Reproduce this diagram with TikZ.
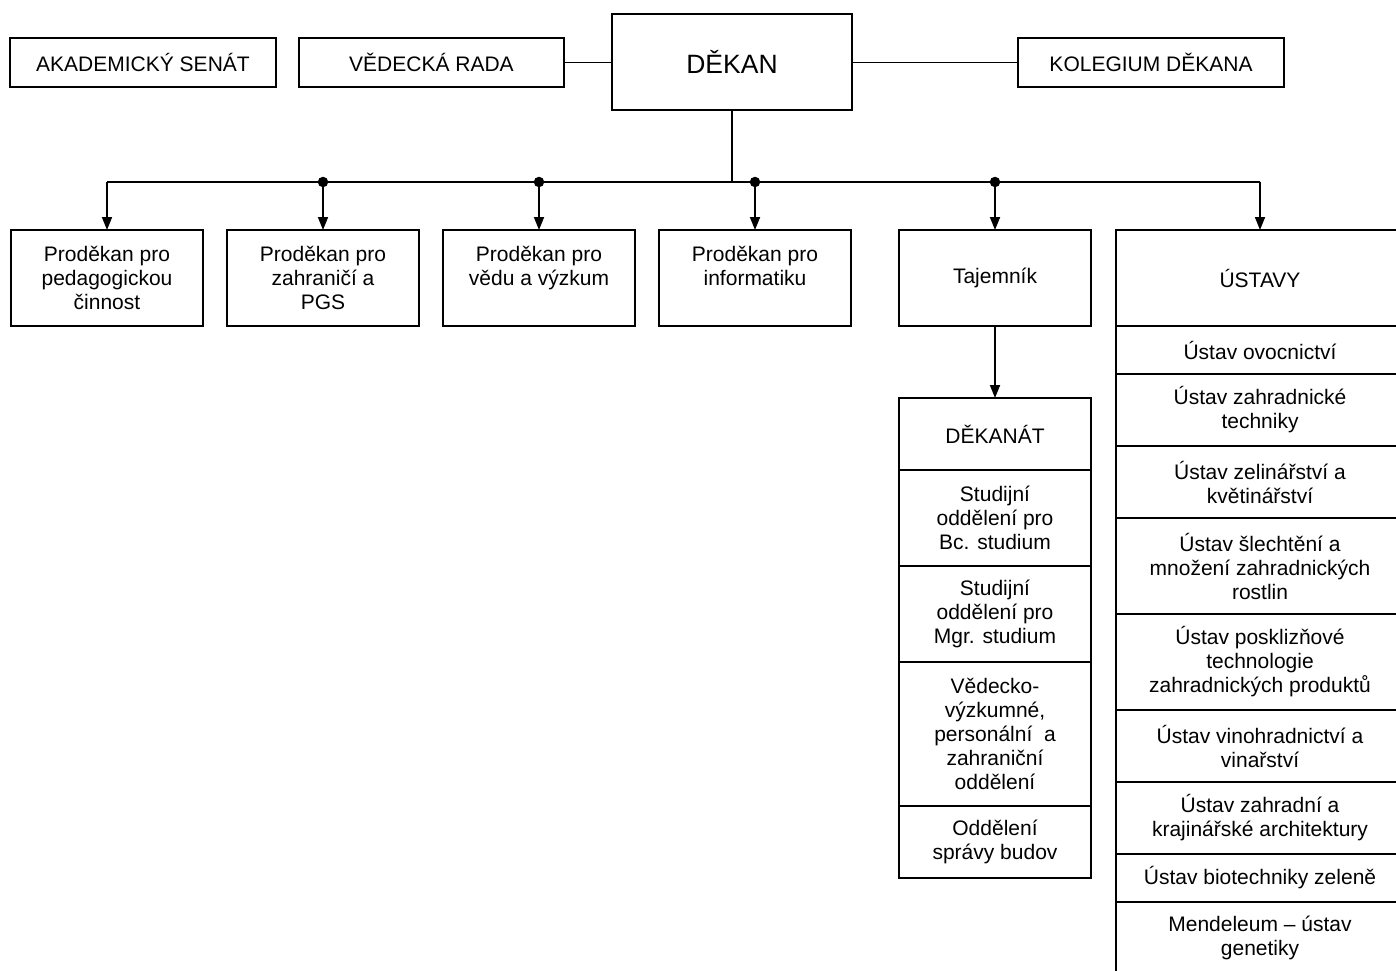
\documentclass[tikz,border=0pt]{standalone}
\usepackage{fontspec}
\setmainfont{Liberation Sans}
\usetikzlibrary{arrows.meta}
\tikzset{
  box/.style={draw, line width=1.7pt, inner sep=0pt, outer sep=0pt, align=center,
    font=\fontsize{21}{24}\selectfont, minimum width=#1},
  box/.default=192pt,
  ubox/.style={box=288pt, line width=2.1pt},
  conn/.style={line width=1.7pt},
  arr/.style={line width=1.7pt, -{Triangle[length=13pt,width=10pt]}},
  jdot/.style={circle, fill=black, inner sep=0pt, minimum size=10.5pt}
}
\begin{document}
\begin{tikzpicture}[x=1pt,y=-1pt]
\useasboundingbox (0,0) rectangle (1396,970);
% top row
\node[box=266pt, minimum height=49pt] (as) at (143,62.5) {AKADEMICKÝ SENÁT};
\node[box=265pt, minimum height=49pt] (vr) at (431.5,62.5) {VĚDECKÁ RADA};
\node[box=240pt, minimum height=96pt, font=\fontsize{26.5}{30}\selectfont] (dek) at (732,62) {DĚKAN};
\node[box=266pt, minimum height=49pt] (kol) at (1151,62.5) {KOLEGIUM DĚKANA};
\draw[conn] (vr.east) -- (vr.east -| dek.west);
\draw[conn] (dek.east |- kol.west) -- (kol.west);
% second row
\node[box, minimum height=96pt] (p1) at (107,278) {Proděkan pro\\pedagogickou\\činnost};
\node[box, minimum height=96pt] (p2) at (323,278) {Proděkan pro\\zahraničí a\\PGS};
\node[box, minimum height=96pt] (p3) at (539,278) {Proděkan pro\\vědu a výzkum\\~};
\node[box, minimum height=96pt] (p4) at (755,278) {Proděkan pro\\informatiku\\~};
\node[box, minimum height=96pt] (taj) at (995,278) {Tajemník};
\node[ubox, minimum height=96pt] (ust) at (1260,278) {ÚSTAVY};
% bus
\coordinate (bus) at (732,182);
\draw[conn] (dek.south -| bus) -- (bus);
\draw[conn] (p1.north |- bus) -- (ust.north |- bus);
\foreach \n in {p1,p2,p3,p4,taj,ust}{
  \draw[arr] (\n.north |- bus) -- (\n.north);
}
\foreach \n in {p2,p3,p4,taj}{
  \node[jdot] at (\n.north |- bus) {};
}
% dekanat column
\node[box, minimum height=72pt] (d0) at (995,434) {DĚKANÁT};
\node[box, minimum height=96pt] (d1) at (995,518) {Studijní\\oddělení pro\\Bc. studium};
\node[box, minimum height=96pt] (d2) at (995,614) {Studijní\\oddělení pro\\Mgr. studium};
\node[box, minimum height=144pt] (d3) at (995,734) {Vědecko-\\výzkumné,\\personální\ \ a\\zahraniční\\oddělení};
\node[box, minimum height=72pt] (d4) at (995,842) {Oddělení\\správy budov};
\draw[arr] (taj.south) -- (d0.north);
% ustavy column
\node[ubox, minimum height=48pt] (u1) at (1260,350) {Ústav ovocnictví};
\node[ubox, minimum height=72pt] (u2) at (1260,410) {Ústav zahradnické\\techniky};
\node[ubox, minimum height=72pt] (u3) at (1260,482) {Ústav zelinářství a\\květinářství};
\node[ubox, minimum height=96pt] (u4) at (1260,566) {Ústav šlechtění a\\množení zahradnických\\rostlin};
\node[ubox, minimum height=96pt] (u5) at (1260,662) {Ústav posklizňové\\technologie\\zahradnických produktů};
\node[ubox, minimum height=72pt] (u6) at (1260,746) {Ústav vinohradnictví a\\vinařství};
\node[ubox, minimum height=72pt] (u7) at (1260,818) {Ústav zahradní a\\krajinářské architektury};
\node[ubox, minimum height=48pt] (u8) at (1260,878) {Ústav biotechniky zeleně};
\node[ubox, minimum height=72pt] (u9) at (1260,938) {Mendeleum – ústav\\genetiky};
\end{tikzpicture}
\end{document}
